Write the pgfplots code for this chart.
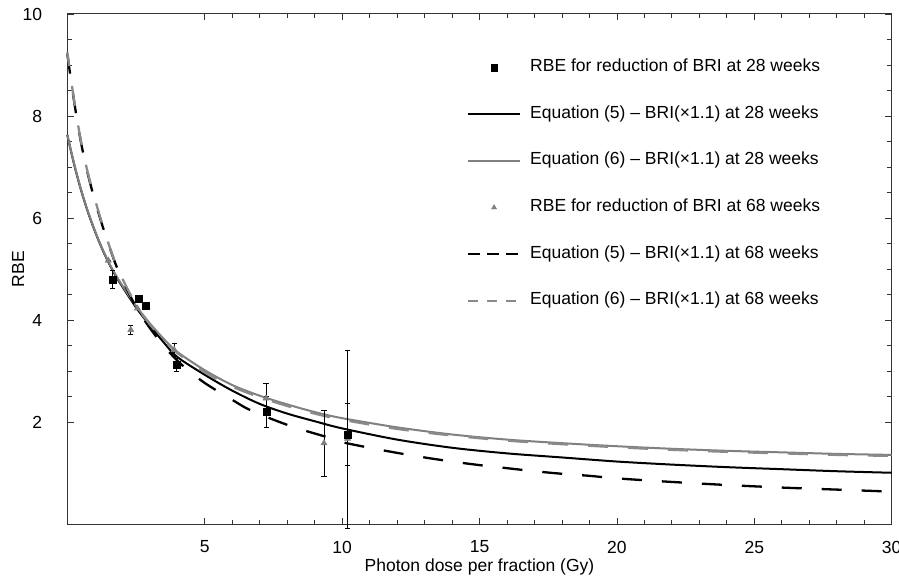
\documentclass[border=0pt]{standalone}
\usepackage{fontspec}
\setmainfont{Liberation Sans}
\usepackage{pgfplots}
\pgfplotsset{compat=1.18}
\definecolor{cgray}{HTML}{808080}
\definecolor{cgrayd}{HTML}{8A8A8A}
\begin{document}
\fontsize{17.5}{21}\selectfont
\begin{tikzpicture}
\begin{axis}[
 scale only axis, width=824.4pt, height=510.3pt,
 xmin=0, xmax=30, ymin=0, ymax=10,
 clip=false,
 xtick={5,10,...,30}, ytick={2,4,...,10},
 minor x tick num=4, minor y tick num=3,
 major tick length=6.5pt, minor tick length=4.5pt,
 tick align=inside,
 axis line style={line width=1pt, black!80},
 every tick/.style={black!80, line width=0.8pt},
 /pgf/number format/assume math mode=true,
 tick label style={font=\fontsize{17.5}{21}\selectfont},
 xticklabel style={anchor=center, yshift=-22.7pt, inner sep=0pt},
 yticklabel style={anchor=east, xshift=-25pt, inner sep=0pt},
 xlabel={Photon dose per fraction (Gy)},
 ylabel={RBE},
 xlabel style={at={(axis description cs:0.5,0)}, anchor=center, yshift=-43pt, inner sep=0pt},
 ylabel style={at={(axis description cs:-0.0598,0.5)}, anchor=center, inner sep=0pt},
 label style={font=\fontsize{17.5}{21}\selectfont},
 legend style={draw=none, fill=none, at={(0.4845,0.9112)}, anchor=north west,
   inner sep=0pt, row sep=30.67pt, font=\fontsize{17.5}{21}\selectfont,
   nodes={inner sep=0pt, text height=12pt, text depth=4pt},
   /tikz/every odd column/.append style={column sep=9pt}},
 legend cell align=left,
]
\coordinate (bl) at (rel axis cs:0,0);
\coordinate (tr) at (rel axis cs:1,1);

% Eq (5) 28 weeks - black solid
\addplot[black, line width=2pt, smooth, forget plot] coordinates {
(0,7.63) (0.25,7.05) (0.5,6.55) (0.75,6.12) (1.0,5.75) (1.25,5.42) (1.5,5.13) (1.75,4.88)
(2.0,4.66) (2.5,4.25) (3.0,3.90) (3.5,3.57) (4.0,3.28) (5,2.93) (6,2.62) (7,2.36) (8,2.17)
(9,2.02) (10,1.88) (12,1.66) (14,1.50) (16,1.39) (18,1.31) (20,1.23) (22,1.17) (24,1.12)
(26,1.08) (28,1.04) (30,1.01)};
% Eq (6) 28 weeks - gray solid
\addplot[cgray, line width=2pt, smooth, forget plot] coordinates {
(0,7.63) (0.25,7.06) (0.5,6.56) (0.75,6.13) (1.0,5.76) (1.25,5.43) (1.5,5.14) (1.75,4.90)
(2.0,4.68) (2.5,4.28) (3.0,3.94) (3.5,3.64) (4.0,3.38) (5,3.02) (6,2.73) (7,2.52) (8,2.35)
(9,2.20) (10,2.08) (12,1.90) (14,1.76) (16,1.66) (18,1.59) (20,1.53) (22,1.48) (24,1.44)
(26,1.41) (28,1.38) (30,1.36)};
% Eq (5) 68 weeks - black dashed
\addplot[black, line width=2.3pt, smooth, dash pattern=on 20pt off 20pt, forget plot] coordinates {
(0,9.22) (0.25,8.28) (0.5,7.48) (0.75,6.86) (1.0,6.35) (1.25,5.90) (1.5,5.49) (1.75,5.11)
(2.0,4.80) (2.5,4.26) (3.0,3.85) (3.5,3.50) (4.0,3.21) (4.5,2.97) (5,2.77) (5.5,2.60) (6,2.44)
(6.5,2.28) (7,2.16) (7.5,2.05) (8,1.95) (8.5,1.86) (9,1.78) (9.5,1.70) (10,1.61) (11,1.50)
(12,1.40) (13,1.31) (14,1.23) (15,1.16) (16,1.10) (17,1.04) (18,0.99) (19,0.95) (20,0.90)
(22,0.83) (24,0.77) (26,0.72) (28,0.68) (30,0.64)};
% Eq (6) 68 weeks - gray dashed
\addplot[cgrayd, line width=2.3pt, smooth, dash pattern=on 20pt off 20pt, dash phase=6pt, forget plot] coordinates {
(0,9.25) (0.25,8.30) (0.5,7.50) (0.75,6.88) (1.0,6.38) (1.25,5.92) (1.5,5.50) (1.75,5.12)
(2.0,4.82) (2.5,4.30) (3.0,3.92) (3.5,3.62) (4.0,3.36) (5,2.98) (6,2.70) (7,2.49) (8,2.32)
(9,2.17) (10,2.05) (12,1.87) (14,1.74) (16,1.64) (18,1.57) (20,1.51) (22,1.46) (24,1.42)
(26,1.39) (28,1.36) (30,1.34)};

% RBE 68 weeks - gray triangles
\addplot[only marks, mark=triangle*, mark size=3.6pt, cgray, forget plot,
  error bars/.cd, y dir=both, y explicit,
  error bar style={line width=0.8pt, black},
  error mark options={rotate=90, mark size=2.6pt, line width=0.8pt, black}] coordinates {
(1.49,5.17) +- (0,0)
(2.31,3.81) +- (0,0.09)
(2.55,4.23) +- (0,0)
(3.89,3.42) +- (0,0.12)
(7.23,2.47) +- (0,0.29)
(9.34,1.59) += (0,0.65) -= (0,0.66)
(10.2,1.68) += (0,1.72) -= (0,1.76)
};
% RBE 28 weeks - black squares
\addplot[only marks, mark=square*, mark size=3.5pt, black, forget plot,
  error bars/.cd, y dir=both, y explicit,
  error bar style={line width=0.8pt, black},
  error mark options={rotate=90, mark size=2.6pt, line width=0.8pt, black}] coordinates {
(1.64,4.80) +- (0,0.17)
(2.60,4.42) +- (0,0)
(2.86,4.28) +- (0,0)
(3.98,3.13) +- (0,0.13)
(7.26,2.20) +- (0,0.30)
(10.2,1.76) +- (0,0.60)
};

\addlegendimage{legend image code/.code={\draw[black, only marks, mark=square*, mark size=3.3pt] plot coordinates {(26pt,0pt)};}}
\addlegendentry{RBE for reduction of BRI at 28 weeks}
\addlegendimage{legend image code/.code={\draw[black, line width=2pt] (0pt,0pt) -- (52pt,0pt);}}
\addlegendentry{Equation (5) – BRI(×1.1) at 28 weeks}
\addlegendimage{legend image code/.code={\draw[cgray, line width=2pt] (0pt,0pt) -- (52pt,0pt);}}
\addlegendentry{Equation (6) – BRI(×1.1) at 28 weeks}
\addlegendimage{legend image code/.code={\draw[cgray, only marks, mark=triangle*, mark size=3pt] plot coordinates {(26pt,0pt)};}}
\addlegendentry{RBE for reduction of BRI at 68 weeks}
\addlegendimage{legend image code/.code={\draw[black, line width=2.3pt, dash pattern=on 12pt off 7pt] (0pt,0pt) -- (52pt,0pt);}}
\addlegendentry{Equation (5) – BRI(×1.1) at 68 weeks}
\addlegendimage{legend image code/.code={\draw[cgrayd, line width=2pt, dash pattern=on 10pt off 9pt] (0pt,0pt) -- (52pt,0pt);}}
\addlegendentry{Equation (6) – BRI(×1.1) at 68 weeks}
\end{axis}
\pgfresetboundingbox
\path[use as bounding box] ([xshift=-67.3pt,yshift=-54.7pt]bl) rectangle ([xshift=7.3pt,yshift=14pt]tr);
\end{tikzpicture}
\end{document}
